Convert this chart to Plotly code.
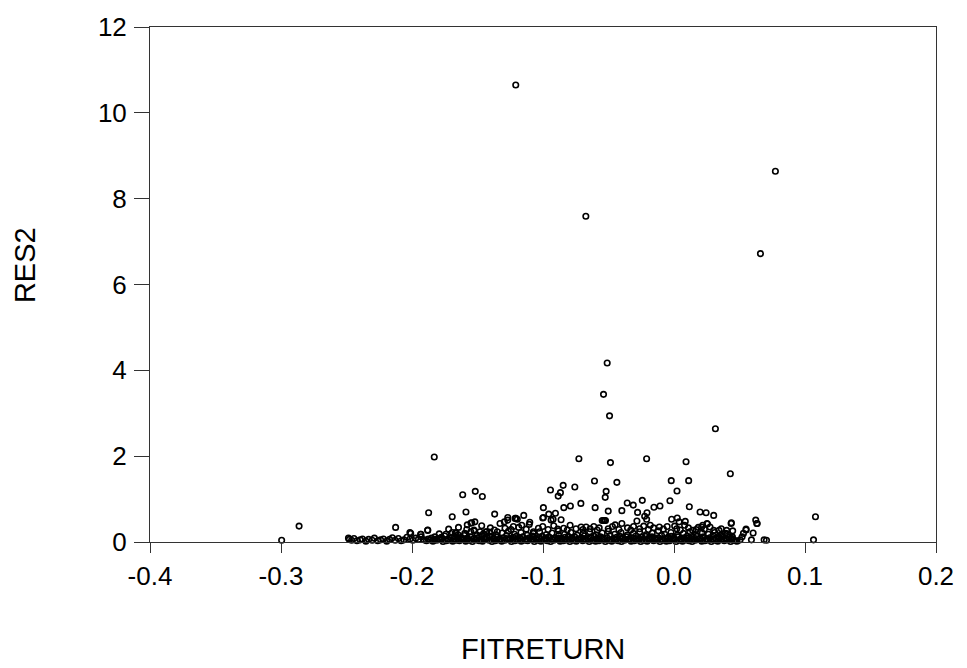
import plotly.graph_objects as go

# ---- axis ticks ----
x_tickvals = [-0.4, -0.3, -0.2, -0.1, 0.0, 0.1, 0.2]
x_ticktext = ["-0.4", "-0.3", "-0.2", "-0.1", "0.0", "0.1", "0.2"]
y_tickvals = [0, 2, 4, 6, 8, 10, 12]
y_ticktext = ["0", "2", "4", "6", "8", "10", "12"]

# ---- isolated / readable points (FITRETURN, RES2) ----
outliers = [
    (-0.1208, 10.65), (0.0774, 8.64), (-0.0673, 7.59), (0.0660, 6.72), (-0.0510, 4.17),
    (-0.0538, 3.44), (-0.0492, 2.94), (0.0316, 2.64), (-0.1830, 1.98), (-0.0726, 1.94),
    (-0.0209, 1.94), (-0.0485, 1.85), (0.0092, 1.87), (0.0430, 1.59), (-0.0607, 1.42),
    (-0.0436, 1.39), (-0.0021, 1.43), (0.0112, 1.43), (0.0023, 1.19), (-0.0846, 1.32),
    (-0.0943, 1.21), (-0.0867, 1.15), (-0.0884, 1.07), (-0.0757, 1.28), (-0.0518, 1.18),
    (-0.0525, 1.04), (-0.1463, 1.06), (-0.1613, 1.10), (-0.1517, 1.18), (-0.0031, 0.96),
    (-0.0242, 0.97), (-0.0357, 0.91), (-0.0311, 0.86), (-0.0711, 0.90), (-0.0791, 0.84),
    (-0.0841, 0.80), (-0.0997, 0.80), (-0.0602, 0.80), (-0.0502, 0.72), (0.0117, 0.82),
    (-0.0107, 0.84), (-0.0153, 0.81), (0.0199, 0.70), (0.0245, 0.68), (0.0303, 0.62),
    (0.0624, 0.51), (0.0632, 0.43), (0.1080, 0.59), (0.1065, 0.05), (0.0688, 0.05),
    (0.0706, 0.04), (0.0436, 0.43), (-0.1369, 0.65), (-0.1147, 0.62), (-0.1269, 0.57),
    (-0.1101, 0.46), (-0.0905, 0.67), (-0.0956, 0.65), (-0.1002, 0.56), (-0.0862, 0.52),
    (-0.0923, 0.53), (-0.0538, 0.50), (-0.0530, 0.50), (-0.0278, 0.69), (-0.0206, 0.68),
    (-0.0224, 0.60), (-0.0209, 0.53), (-0.0398, 0.73), (-0.0018, 0.53), (0.0025, 0.56),
    (0.0086, 0.48), (0.0039, 0.47), (0.0255, 0.42), (0.0211, 0.35), (0.0550, 0.28),
    (0.0604, 0.21), (0.0530, 0.20), (0.0505, 0.05), (0.0591, 0.05), (0.0520, 0.12),
    (-0.2995, 0.04), (-0.2862, 0.37), (-0.1873, 0.68), (-0.1693, 0.59), (-0.1588, 0.70),
    (-0.2125, 0.34), (-0.1880, 0.27), (-0.2010, 0.20), (-0.1932, 0.18), (-0.1792, 0.19),
    (-0.1670, 0.21), (-0.1578, 0.40), (-0.1550, 0.44), (-0.1520, 0.47), (-0.1525, 0.26),
    (-0.2485, 0.09), (-0.1206, 0.55), (-0.1544, 0.45), (-0.1468, 0.38), (-0.1328, 0.43),
]

# ---- medium-height points read from the crowded region ----
mid_points = [
    (-0.1295, 0.47), (-0.1213, 0.55), (-0.1196, 0.53), (-0.1162, 0.39), (-0.1226, 0.36),
    (-0.1290, 0.32), (-0.1435, 0.24), (-0.1073, 0.24), (-0.1035, 0.32), (-0.0997, 0.57),
    (-0.0938, 0.51), (-0.0887, 0.30), (-0.0793, 0.39), (-0.0709, 0.35), (-0.0671, 0.35),
    (-0.0640, 0.31), (-0.0571, 0.33), (-0.0548, 0.50), (-0.0523, 0.50), (-0.0449, 0.40),
    (-0.0398, 0.43), (-0.0309, 0.36), (-0.0283, 0.49), (-0.0181, 0.39), (-0.0156, 0.33),
    (-0.0112, 0.35), (0.0005, 0.37), (0.0048, 0.28), (0.0081, 0.39), (0.0142, 0.27),
    (0.0186, 0.34), (0.0219, 0.39), (0.0252, 0.43), (0.0303, 0.27), (0.0344, 0.27),
    (0.0392, 0.20), (0.0448, 0.26), (0.0446, 0.12), (-0.2016, 0.22), (-0.1934, 0.18),
    (-0.1880, 0.28), (-0.1664, 0.22), (-0.1527, 0.28), (-0.1481, 0.24), (-0.1430, 0.24),
    (-0.1349, 0.24), (-0.1269, 0.51), (0.0438, 0.45), (0.0550, 0.30), (0.0635, 0.43),
]

# ---- scattered points 0.25-0.4 inside the cloud ----
upper_row = [
    (-0.1720, 0.30), (-0.1645, 0.34), (-0.1582, 0.29), (-0.1402, 0.33), (-0.1371, 0.28),
    (-0.1244, 0.29), (-0.1185, 0.34), (-0.1128, 0.30), (-0.1002, 0.36), (-0.0961, 0.29),
    (-0.0918, 0.38), (-0.0842, 0.32), (-0.0815, 0.28), (-0.0748, 0.31), (-0.0695, 0.29),
    (-0.0612, 0.36), (-0.0586, 0.28), (-0.0502, 0.31), (-0.0470, 0.36), (-0.0421, 0.29),
    (-0.0355, 0.33), (-0.0330, 0.28), (-0.0262, 0.31), (-0.0231, 0.37), (-0.0195, 0.29),
    (-0.0081, 0.30), (-0.0052, 0.36), (0.0021, 0.31), (0.0110, 0.33), (0.0168, 0.29),
    (0.0232, 0.30), (0.0275, 0.35), (0.0361, 0.31), (0.0402, 0.27), (-0.1105, 0.41),
]

# ---- sparse low row at the left end ----
left_row = [
    (-0.2478, 0.06), (-0.2461, 0.04), (-0.2443, 0.08), (-0.2420, 0.03), (-0.2395, 0.05),
    (-0.2378, 0.07), (-0.2352, 0.02), (-0.2331, 0.06), (-0.2304, 0.04), (-0.2287, 0.09),
    (-0.2262, 0.03), (-0.2240, 0.05), (-0.2218, 0.07), (-0.2193, 0.02), (-0.2171, 0.06),
    (-0.2150, 0.10), (-0.2128, 0.04), (-0.2104, 0.08), (-0.2083, 0.03), (-0.2061, 0.05),
    (-0.2039, 0.11), (-0.2016, 0.07), (-0.1994, 0.04), (-0.1972, 0.09), (-0.1951, 0.06),
    (-0.1930, 0.12), (-0.1907, 0.05),
]

# ---- dense band near zero ----
band_low = [
    (-0.1889, 0.03), (-0.1862, 0.05), (-0.1840, 0.02), (-0.1811, 0.04), (-0.1787, 0.06),
    (-0.1763, 0.01), (-0.1738, 0.03), (-0.1712, 0.05), (-0.1689, 0.02), (-0.1661, 0.04),
    (-0.1638, 0.03), (-0.1612, 0.06), (-0.1590, 0.02), (-0.1563, 0.04), (-0.1539, 0.01),
    (-0.1511, 0.05), (-0.1488, 0.03), (-0.1462, 0.02), (-0.1440, 0.06), (-0.1413, 0.04),
    (-0.1389, 0.01), (-0.1364, 0.03), (-0.1338, 0.05), (-0.1315, 0.02), (-0.1290, 0.04),
    (-0.1263, 0.06), (-0.1241, 0.01), (-0.1214, 0.03), (-0.1190, 0.05), (-0.1166, 0.02),
    (-0.1139, 0.04), (-0.1117, 0.03), (-0.1091, 0.06), (-0.1066, 0.01), (-0.1042, 0.04),
    (-0.1016, 0.02), (-0.0993, 0.05), (-0.0967, 0.03), (-0.0942, 0.01), (-0.0918, 0.04),
    (-0.0893, 0.06), (-0.0869, 0.02), (-0.0844, 0.03), (-0.0819, 0.05), (-0.0795, 0.01),
    (-0.0770, 0.04), (-0.0746, 0.02), (-0.0720, 0.06), (-0.0697, 0.03), (-0.0671, 0.05),
    (-0.0647, 0.01), (-0.0622, 0.04), (-0.0598, 0.02), (-0.0572, 0.03), (-0.0549, 0.06),
    (-0.0524, 0.01), (-0.0499, 0.04), (-0.0475, 0.02), (-0.0450, 0.05), (-0.0426, 0.03),
    (-0.0401, 0.01), (-0.0377, 0.04), (-0.0352, 0.06), (-0.0327, 0.02), (-0.0303, 0.03),
    (-0.0278, 0.05), (-0.0254, 0.01), (-0.0229, 0.04), (-0.0205, 0.02), (-0.0180, 0.06),
    (-0.0156, 0.03), (-0.0131, 0.05), (-0.0107, 0.01), (-0.0082, 0.04), (-0.0058, 0.02),
    (-0.0033, 0.03), (-0.0009, 0.06), (0.0016, 0.01), (0.0040, 0.04), (0.0065, 0.02),
    (0.0089, 0.05), (0.0114, 0.03), (0.0138, 0.01), (0.0163, 0.04), (0.0187, 0.06),
    (0.0212, 0.02), (0.0236, 0.03), (0.0261, 0.05), (0.0285, 0.01), (0.0310, 0.04),
    (0.0334, 0.02), (0.0359, 0.06), (0.0383, 0.03), (0.0408, 0.05), (0.0432, 0.01),
    (0.0457, 0.04), (0.0481, 0.02),
]

band_low2 = [
    (-0.1876, 0.07), (-0.1824, 0.06), (-0.1774, 0.08), (-0.1726, 0.05), (-0.1675, 0.07),
    (-0.1626, 0.09), (-0.1577, 0.06), (-0.1527, 0.08), (-0.1476, 0.05), (-0.1427, 0.09),
    (-0.1376, 0.07), (-0.1327, 0.06), (-0.1277, 0.08), (-0.1228, 0.05), (-0.1178, 0.09),
    (-0.1128, 0.07), (-0.1079, 0.06), (-0.1029, 0.08), (-0.0980, 0.05), (-0.0930, 0.07),
    (-0.0881, 0.09), (-0.0832, 0.06), (-0.0782, 0.08), (-0.0733, 0.05), (-0.0684, 0.07),
    (-0.0634, 0.09), (-0.0585, 0.06), (-0.0536, 0.08), (-0.0487, 0.05), (-0.0438, 0.07),
    (-0.0389, 0.09), (-0.0340, 0.06), (-0.0291, 0.08), (-0.0242, 0.05), (-0.0193, 0.07),
    (-0.0144, 0.09), (-0.0095, 0.06), (-0.0046, 0.08), (0.0003, 0.05), (0.0052, 0.07),
    (0.0101, 0.09), (0.0150, 0.06), (0.0199, 0.08), (0.0248, 0.05), (0.0297, 0.07),
    (0.0346, 0.09), (0.0395, 0.06), (0.0444, 0.08), (0.0470, 0.03),
]

band_mid = [
    (-0.1851, 0.09), (-0.1826, 0.12), (-0.1799, 0.08), (-0.1776, 0.11), (-0.1750, 0.14),
    (-0.1725, 0.07), (-0.1700, 0.10), (-0.1675, 0.13), (-0.1650, 0.08), (-0.1625, 0.11),
    (-0.1601, 0.15), (-0.1576, 0.09), (-0.1551, 0.12), (-0.1526, 0.07), (-0.1500, 0.10),
    (-0.1476, 0.14), (-0.1451, 0.08), (-0.1426, 0.11), (-0.1402, 0.13), (-0.1377, 0.09),
    (-0.1352, 0.12), (-0.1327, 0.07), (-0.1302, 0.10), (-0.1278, 0.15), (-0.1253, 0.08),
    (-0.1228, 0.11), (-0.1203, 0.13), (-0.1178, 0.09), (-0.1154, 0.12), (-0.1129, 0.07),
    (-0.1104, 0.10), (-0.1079, 0.14), (-0.1054, 0.08), (-0.1030, 0.11), (-0.1005, 0.13),
    (-0.0980, 0.09), (-0.0955, 0.12), (-0.0930, 0.07), (-0.0906, 0.10), (-0.0881, 0.15),
    (-0.0856, 0.08), (-0.0831, 0.11), (-0.0807, 0.13), (-0.0782, 0.09), (-0.0758, 0.12),
    (-0.0733, 0.07), (-0.0708, 0.10), (-0.0684, 0.14), (-0.0659, 0.08), (-0.0634, 0.11),
    (-0.0610, 0.13), (-0.0585, 0.09), (-0.0561, 0.12), (-0.0536, 0.07), (-0.0511, 0.10),
    (-0.0487, 0.15), (-0.0462, 0.08), (-0.0438, 0.11), (-0.0413, 0.13), (-0.0389, 0.09),
    (-0.0364, 0.12), (-0.0340, 0.07), (-0.0315, 0.10), (-0.0291, 0.14), (-0.0266, 0.08),
    (-0.0242, 0.11), (-0.0217, 0.13), (-0.0193, 0.09), (-0.0168, 0.12), (-0.0144, 0.07),
    (-0.0119, 0.10), (-0.0095, 0.15), (-0.0070, 0.08), (-0.0046, 0.11), (-0.0021, 0.13),
    (0.0003, 0.09), (0.0028, 0.12), (0.0052, 0.07), (0.0077, 0.10), (0.0101, 0.14),
    (0.0126, 0.08), (0.0150, 0.11), (0.0175, 0.13), (0.0199, 0.09), (0.0224, 0.12),
    (0.0248, 0.07), (0.0273, 0.10), (0.0297, 0.15), (0.0322, 0.08), (0.0346, 0.11),
    (0.0371, 0.13), (0.0395, 0.09), (0.0420, 0.12), (0.0444, 0.07),
]

band_top = [
    (-0.1742, 0.18), (-0.1693, 0.22), (-0.1648, 0.17), (-0.1597, 0.20), (-0.1551, 0.24),
    (-0.1503, 0.16), (-0.1455, 0.19), (-0.1408, 0.23), (-0.1359, 0.17), (-0.1312, 0.21),
    (-0.1264, 0.25), (-0.1217, 0.18), (-0.1168, 0.22), (-0.1121, 0.16), (-0.1073, 0.20),
    (-0.1026, 0.24), (-0.0977, 0.17), (-0.0931, 0.21), (-0.0882, 0.26), (-0.0835, 0.18),
    (-0.0787, 0.22), (-0.0739, 0.16), (-0.0692, 0.20), (-0.0644, 0.24), (-0.0596, 0.17),
    (-0.0548, 0.21), (-0.0501, 0.25), (-0.0453, 0.18), (-0.0405, 0.22), (-0.0357, 0.16),
    (-0.0310, 0.20), (-0.0262, 0.24), (-0.0214, 0.17), (-0.0166, 0.21), (-0.0119, 0.26),
    (-0.0071, 0.18), (-0.0023, 0.22), (0.0025, 0.16), (0.0072, 0.20), (0.0120, 0.24),
    (0.0168, 0.17), (0.0216, 0.21), (0.0263, 0.18), (0.0311, 0.22), (0.0359, 0.16),
    (0.0407, 0.19),
]

all_points = (outliers + mid_points + upper_row + left_row
              + band_low + band_low2 + band_mid + band_top)
fitreturn = [p[0] for p in all_points]
res2 = [p[1] for p in all_points]

FONT = "Liberation Sans, Arial, sans-serif"
AXC = "#333333"

fig = go.Figure()
fig.add_trace(go.Scatter(
    x=fitreturn, y=res2, mode="markers", cliponaxis=False,
    marker=dict(symbol="circle-open", size=5.5, color="black", line=dict(width=1.6)),
    showlegend=False, hoverinfo="x+y",
))

fig.update_layout(
    width=967, height=668,
    margin=dict(l=150, r=31, t=25, b=126),
    paper_bgcolor="white", plot_bgcolor="white",
    font=dict(family=FONT, size=26, color="black"),
    xaxis=dict(
        range=[-0.4, 0.2], tickvals=x_tickvals, ticktext=x_ticktext,
        ticks="outside", ticklen=10, tickwidth=1, tickcolor=AXC,
        showline=True, linecolor=AXC, linewidth=1, mirror=True,
        showgrid=False, zeroline=False,
        tickfont=dict(family=FONT, size=26, color="black"),
        ticklabelstandoff=1,
    ),
    yaxis=dict(
        range=[0, 12], tickvals=y_tickvals, ticktext=y_ticktext,
        ticks="outside", ticklen=15, tickwidth=1, tickcolor=AXC,
        showline=True, linecolor=AXC, linewidth=1, mirror=True,
        showgrid=False, zeroline=False,
        tickfont=dict(family=FONT, size=26, color="black"),
        ticklabelstandoff=2,
    ),
    annotations=[
        dict(text="FITRETURN", xref="paper", yref="paper", x=0.5, y=-0.2418,
             xanchor="center", yanchor="bottom", showarrow=False,
             font=dict(family=FONT, size=29, color="black")),
        dict(text="RES2", xref="paper", yref="paper", x=-0.159, y=0.5377,
             xanchor="center", yanchor="middle", textangle=-90, showarrow=False,
             font=dict(family=FONT, size=29, color="black")),
    ],
)

fig.write_html("out.html")
